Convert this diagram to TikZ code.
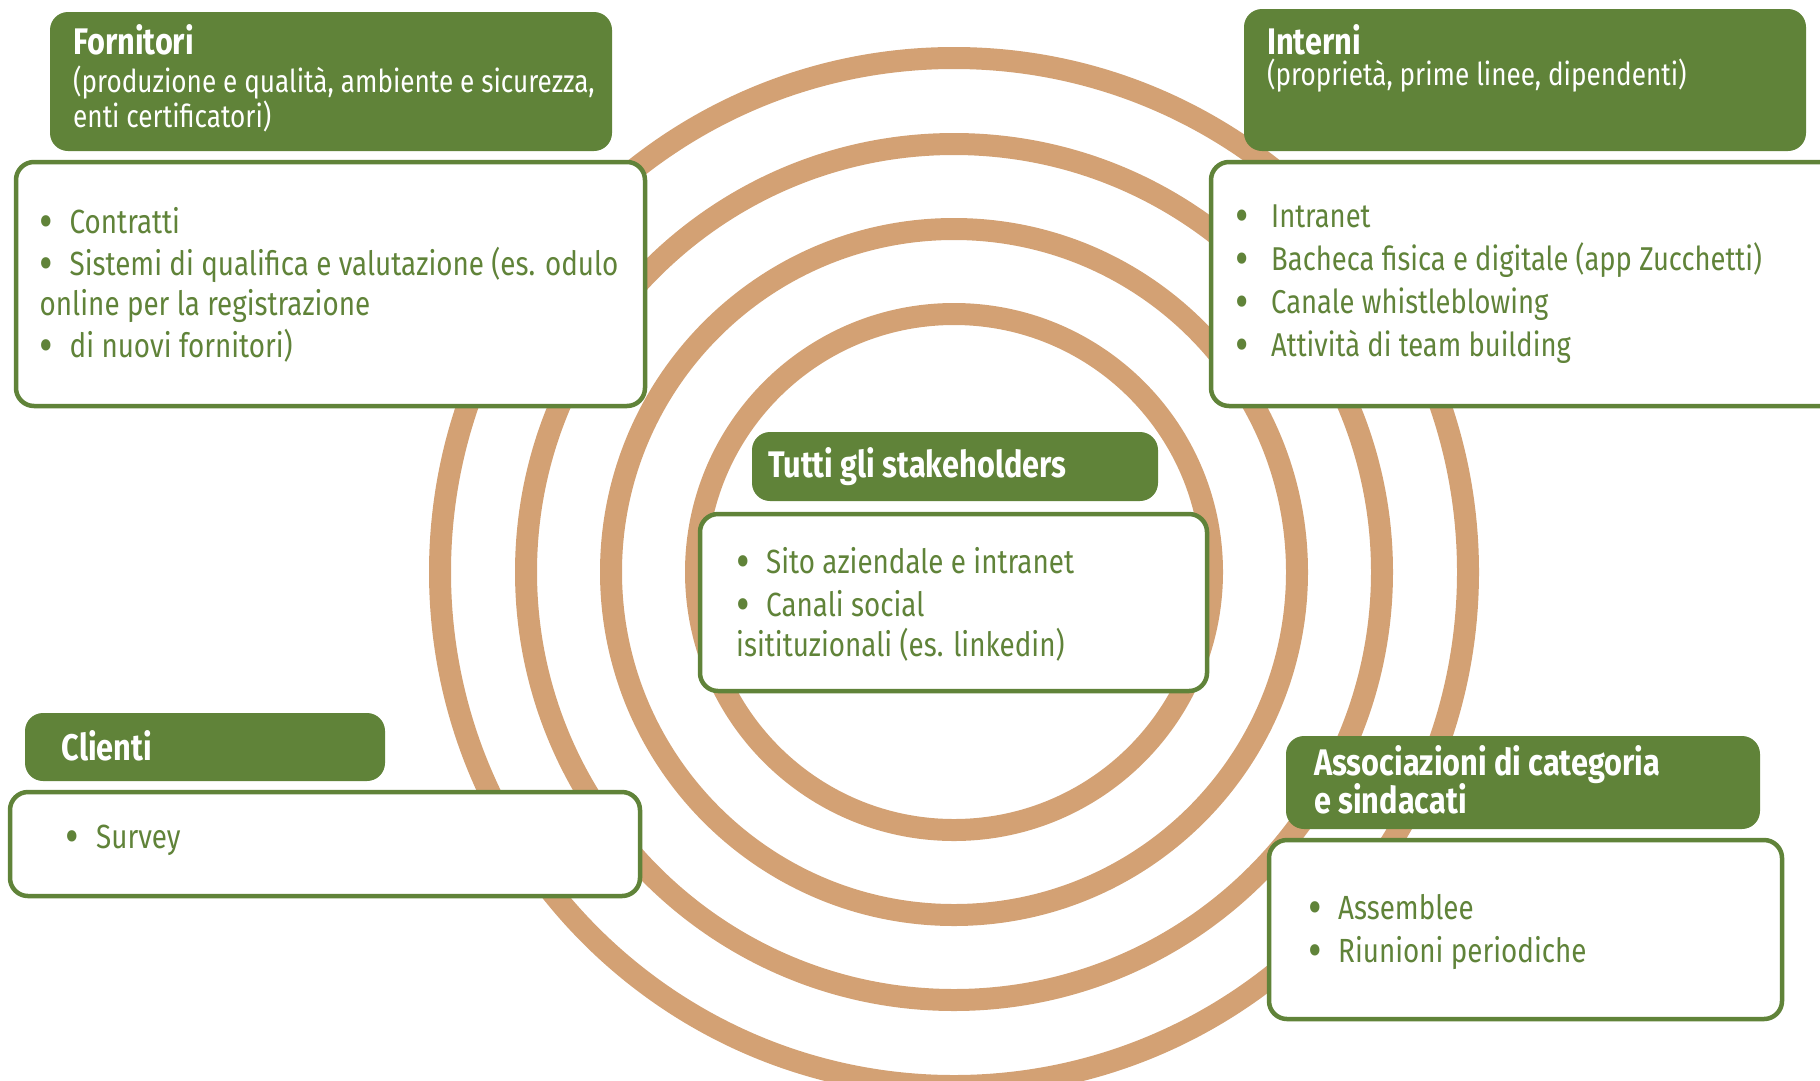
\documentclass[tikz,border=0pt]{standalone}
\usepackage{fontspec}
\setmainfont{Fira Sans}[FakeStretch=0.83]
\usepackage{tikz}
\usetikzlibrary{positioning}
\definecolor{leafcol}{RGB}{96,131,57}
\definecolor{ringcol}{RGB}{211,161,116}
\newcommand{\bul}[1][30pt]{\makebox[#1][l]{\raisebox{-0.15em}{\scalebox{1.5}{\textbullet}}}}

\begin{document}
\begin{tikzpicture}[x=1pt,y=-1pt,
  head/.style={fill=leafcol, rounded corners=18pt, inner sep=0pt},
  body/.style={draw=leafcol, fill=white, line width=4.5pt, rounded corners=18pt, inner sep=0pt},
  ttl/.style={inner sep=0pt, text=white, align=left,
              font=\fontsize{37}{38.5}\selectfont\bfseries},
  sub/.style={anchor=north west, inner sep=0pt, text=white, align=left,
              font=\fontsize{31.5}{35}\selectfont},
  lst/.style={anchor=north west, inner sep=0pt, text=leafcol, align=left,
              font=\fontsize{33.5}{40}\selectfont},
  ring/.style={draw=ringcol, line width=22pt}
]
\useasboundingbox (0,0) rectangle (1820,1080);

% rings
\coordinate (mid) at (954,572);
\foreach \r in {514,428,343,258}
  \draw[ring] (mid) circle[radius=\r];

% Fornitori
\node[head, minimum width=562pt, minimum height=139pt] (fornHead) at (331,81.5) {};
\node[body, minimum width=629pt, minimum height=244pt] (fornBody) at (330.5,284) {};
\node[ttl, anchor=north west] (fornTtl) at (73,24) {Fornitori};
\node[sub] (fornSub) at (73,66) {(produzione e qualità, ambiente e sicurezza,\\enti certificatori)};
\node[lst] (fornLst) at (39.5,207) {\bul Contratti\\[2pt]
  \bul Sistemi di qualifica e valutazione (es. odulo\\
  online per la registrazione\\[2pt]
  \bul di nuovi fornitori)};

% Interni
\node[head, minimum width=562pt, minimum height=142pt] (intHead) at (1525,80) {};
\node[body, minimum width=629pt, minimum height=244pt] (intBody) at (1525.5,284) {};
\node[ttl, anchor=north west] (intTtl) at (1267,24) {Interni};
\node[sub] (intSub) at (1267,59) {(proprietà, prime linee, dipendenti)};
\node[lst, font=\fontsize{33}{43}\selectfont] (intLst) at (1235,205) {\bul[36pt]Intranet\\
  \bul[36pt]Bacheca fisica e digitale (app Zucchetti)\\
  \bul[36pt]Canale whistleblowing\\
  \bul[36pt]Attività di team building};

% Tutti gli stakeholders
\node[head, minimum width=406pt, minimum height=69pt] (tutHead) at (955,466.5) {};
\node[body, minimum width=507pt, minimum height=177pt] (tutBody) at (953.5,602.5) {};
\node[ttl, anchor=west] (tutTtl) at (768,467) {Tutti gli stakeholders};
\node[lst] (tutLst) at (736,547) {\bul Sito aziendale e intranet\\[3pt]
  \bul Canali social\\
  isitituzionali (es. linkedin)};

% Clienti
\node[head, minimum width=360pt, minimum height=68pt] (cliHead) at (205,747) {};
\node[body, minimum width=630pt, minimum height=104pt] (cliBody) at (325,844) {};
\node[ttl, anchor=west] (cliTtl) at (61.5,746) {Clienti};
\node[lst] (cliLst) at (65,825) {\bul[31pt]Survey};

% Associazioni
\node[head, minimum width=474pt, minimum height=93pt] (assHead) at (1523,782.5) {};
\node[body, minimum width=513pt, minimum height=179pt] (assBody) at (1525.5,929.5) {};
\node[ttl, anchor=north west] (assTtl) at (1314,745) {Associazioni di categoria\\e sindacati};
\node[lst, font=\fontsize{33.5}{43}\selectfont] (assLst) at (1308,894) {\bul Assemblee\\
  \bul Riunioni periodiche};

\end{tikzpicture}
\end{document}
